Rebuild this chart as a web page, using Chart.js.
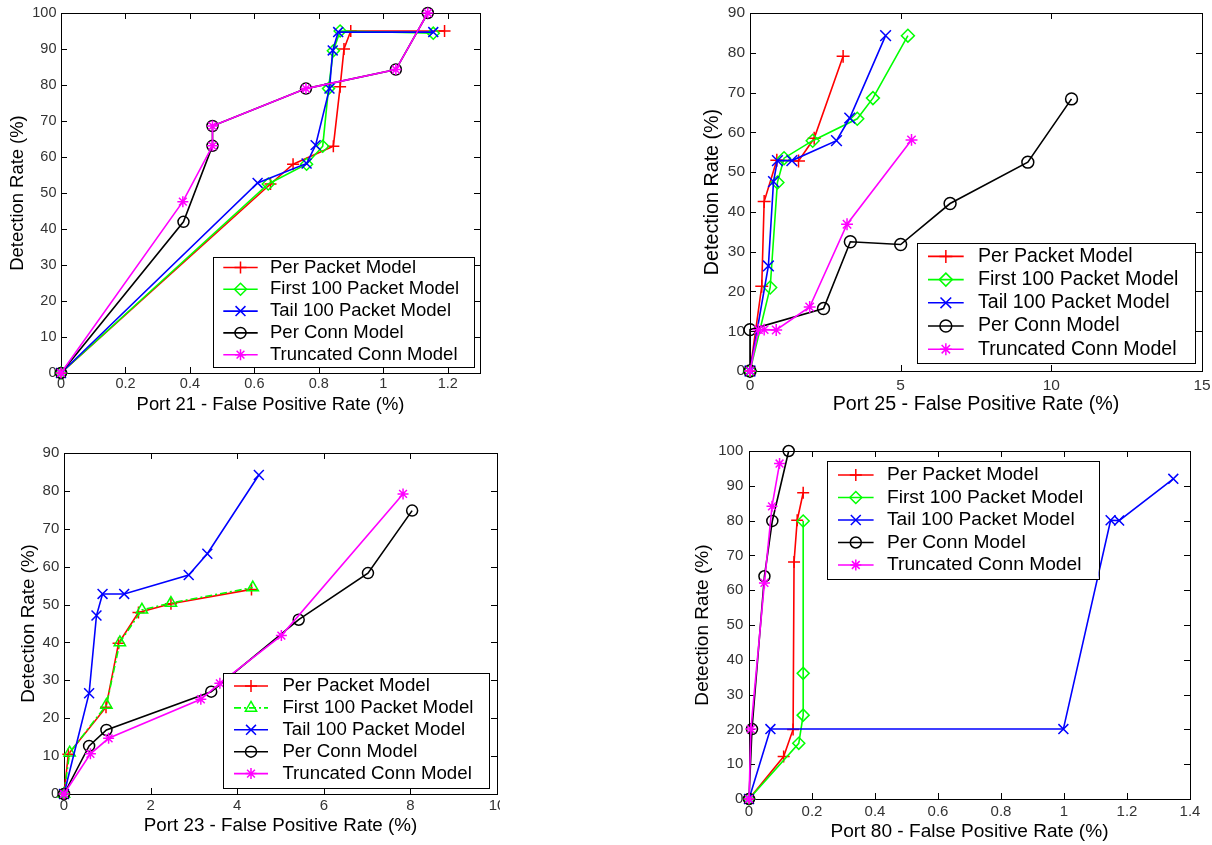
<!DOCTYPE html>
<html><head><meta charset="utf-8">
<script src="https://cdn.jsdelivr.net/npm/chart.js@4.4.0/dist/chart.umd.min.js"></script>
<style>
html,body{margin:0;padding:0;background:#fff;overflow:hidden;width:1212px;height:845px;}
.panel{position:absolute;overflow:hidden;}
.panel canvas{display:block;}
</style></head><body>
<div class="panel" style="left:0;top:0;width:490px;height:420px;"><canvas id="c21" width="490" height="420"></canvas></div>
<div class="panel" style="left:690px;top:0;width:522px;height:420px;"><canvas id="c25" width="522" height="420"></canvas></div>
<div class="panel" style="left:0;top:430px;width:500px;height:415px;"><canvas id="c23" width="520" height="415"></canvas></div>
<div class="panel" style="left:690px;top:430px;width:522px;height:415px;"><canvas id="c80" width="522" height="415"></canvas></div>
<script>
// ---------------- DATA ----------------
const seriesNames = ['Per Packet Model','First 100 Packet Model','Tail 100 Packet Model','Per Conn Model','Truncated Conn Model'];
const yTitle = 'Detection Rate (%)';

// Port 21
const p21PerPacket = [[0,0],[0.65,52.5],[0.72,58],[0.845,63],[0.866,79.5],[0.878,90],[0.899,95],[1.19,95]];
const p21First100  = [[0,0],[0.643,52.5],[0.762,58],[0.812,63],[0.83,79],[0.845,89.5],[0.866,95],[1.155,94.4]];
const p21Tail100   = [[0,0],[0.61,52.8],[0.762,58.2],[0.79,63.3],[0.833,79],[0.843,89.6],[0.86,94.7],[1.155,94.7]];
const p21PerConn   = [[0,0],[0.38,42],[0.47,63.1],[0.47,68.6],[0.76,79],[1.039,84.3],[1.138,100]];
const p21Truncated = [[0,0],[0.378,47.6],[0.47,63.1],[0.47,68.6],[0.76,79],[1.039,84.3],[1.138,100]];
const p21XTicks = [0,0.2,0.4,0.6,0.8,1,1.2];
const p21YTicks = [0,10,20,30,40,50,60,70,80,90,100];
const p21XTitle = 'Port 21 - False Positive Rate (%)';

// Port 25
const p25PerPacket = [[0,0],[0.39,21.3],[0.47,42.6],[0.89,53],[1.61,52.8],[2.13,58.5],[3.09,79.1]];
const p25First100  = [[0,0],[0.67,21],[0.91,47.4],[1.13,53.5],[2.08,57.9],[3.56,63.4],[4.08,68.6],[5.24,84.3]];
const p25Tail100   = [[0,0],[0.61,26.4],[0.78,47.6],[0.91,52.9],[1.39,52.9],[2.87,57.9],[3.31,63.6],[4.5,84.3]];
const p25PerConn   = [[0,0],[0,10.4],[2.44,15.7],[3.33,32.5],[5,31.8],[6.64,42.1],[9.22,52.5],[10.67,68.4]];
const p25Truncated = [[0,0],[0.28,10.4],[0.47,10.4],[0.87,10.3],[1.98,16.1],[3.22,36.9],[5.36,58.1]];
const p25XTicks = [0,5,10,15];
const p25YTicks = [0,10,20,30,40,50,60,70,80,90];
const p25XTitle = 'Port 25 - False Positive Rate (%)';

// Port 23
const p23PerPacket = [[0,0],[0.1,10.5],[0.97,22.9],[1.26,39.8],[1.72,47.9],[2.47,50.2],[4.33,54]];
const p23First100  = [[0,0],[0.13,10.9],[0.98,23.5],[1.29,40],[1.8,48.6],[2.47,50.4],[4.36,54.5]];
const p23Tail100   = [[0,0],[0.58,26.6],[0.75,47.1],[0.89,52.8],[1.39,52.8],[2.88,57.8],[3.31,63.4],[4.5,84.2]];
const p23PerConn   = [[0,0],[0.58,12.7],[0.98,16.9],[3.4,27],[5.42,46],[7.02,58.3],[8.04,74.8]];
const p23Truncated = [[0,0],[0.61,10.6],[1.03,14.7],[3.16,25],[3.6,29.2],[5.02,41.8],[7.83,79.2]];
const p23XTicks = [0,2,4,6,8,10];
const p23YTicks = [0,10,20,30,40,50,60,70,80,90];
const p23XTitle = 'Port 23 - False Positive Rate (%)';

// Port 80
const p80PerPacket = [[0,0],[0.11,12.2],[0.14,20],[0.143,68.1],[0.153,80.1],[0.172,88]];
const p80First100  = [[0,0],[0.158,16],[0.172,24.1],[0.172,36.1],[0.172,79.9]];
const p80Tail100   = [[0,0],[0.068,20.1],[0.998,20.1],[1.148,80.1],[1.175,80],[1.347,92]];
const p80PerConn   = [[0,0],[0.0095,20.1],[0.049,64],[0.074,79.9],[0.126,100]];
const p80Truncated = [[0,0],[0.006,20.1],[0.049,62.1],[0.073,84.1],[0.097,96.4]];
const p80XTicks = [0,0.2,0.4,0.6,0.8,1,1.2,1.4];
const p80YTicks = [0,10,20,30,40,50,60,70,80,90,100];
const p80XTitle = 'Port 80 - False Positive Rate (%)';

// ---------------- STYLE ----------------
const FONT = '"Liberation Sans", Arial, Helvetica, sans-serif';
const colors = ['#ff0000','#00ff00','#0000ff','#000000','#ff00ff'];
const marks  = ['cross','rectRot','crossRot','circle','star'];
const radii  = {cross:6, rectRot:6, crossRot:7, circle:5.5, star:5.5, triangle:6.5};

function drawMarker(ctx, style, x, y, r, lw, color){
  ctx.save();
  ctx.strokeStyle = color; ctx.lineWidth = lw; ctx.setLineDash([]);
  ctx.beginPath();
  const d = r*Math.SQRT1_2;
  switch(style){
    case 'cross': ctx.moveTo(x-r,y);ctx.lineTo(x+r,y);ctx.moveTo(x,y-r);ctx.lineTo(x,y+r);break;
    case 'crossRot': ctx.moveTo(x-d,y-d);ctx.lineTo(x+d,y+d);ctx.moveTo(x-d,y+d);ctx.lineTo(x+d,y-d);break;
    case 'star': ctx.moveTo(x-r,y);ctx.lineTo(x+r,y);ctx.moveTo(x,y-r);ctx.lineTo(x,y+r);
                 ctx.moveTo(x-d,y-d);ctx.lineTo(x+d,y+d);ctx.moveTo(x-d,y+d);ctx.lineTo(x+d,y-d);break;
    case 'rectRot': ctx.moveTo(x,y-r);ctx.lineTo(x+r,y);ctx.lineTo(x,y+r);ctx.lineTo(x-r,y);ctx.closePath();break;
    case 'circle': ctx.arc(x,y,r,0,Math.PI*2);break;
    case 'triangle': {
      const a = 2*Math.PI/3;
      ctx.moveTo(x, y-r);
      ctx.lineTo(x+Math.sin(a)*r, y-Math.cos(a)*r);
      ctx.lineTo(x+Math.sin(2*a)*r, y-Math.cos(2*a)*r);
      ctx.closePath(); break;
    }
  }
  ctx.stroke();
  ctx.restore();
}

const framePlugin = {
  id: 'frame',
  beforeDatasetsDraw(chart){
    const {ctx, chartArea:a, scales:{x, y}} = chart;
    const len = 6;
    ctx.save();
    ctx.strokeStyle = '#000'; ctx.lineWidth = 1;
    ctx.beginPath();
    x.ticks.forEach(t => {
      const px = Math.round(x.getPixelForValue(t.value)) + 0.5;
      ctx.moveTo(px, a.bottom); ctx.lineTo(px, a.bottom - len);
      ctx.moveTo(px, a.top); ctx.lineTo(px, a.top + len);
    });
    y.ticks.forEach(t => {
      const py = Math.round(y.getPixelForValue(t.value)) + 0.5;
      ctx.moveTo(a.left, py); ctx.lineTo(a.left + len, py);
      ctx.moveTo(a.right, py); ctx.lineTo(a.right - len, py);
    });
    ctx.stroke();
    ctx.strokeRect(Math.round(a.left)+0.5, Math.round(a.top)+0.5, Math.round(a.right-a.left), Math.round(a.bottom-a.top));
    ctx.restore();
  }
};

const legendPlugin = {
  id: 'boxLegend',
  afterDraw(chart, args, o){
    const {ctx, chartArea:a} = chart;
    const bx = Math.round(a.left + o.x), by = Math.round(a.top + o.y);
    ctx.save();
    ctx.fillStyle = '#fff';
    ctx.fillRect(bx, by, o.w, o.h);
    ctx.strokeStyle = '#000'; ctx.lineWidth = 1;
    ctx.strokeRect(bx+0.5, by+0.5, Math.round(o.w), Math.round(o.h));
    chart.data.datasets.forEach((ds, i) => {
      const cy = by + o.first + i*o.step;
      ctx.strokeStyle = ds.borderColor; ctx.lineWidth = ds.borderWidth;
      ctx.setLineDash(ds.borderDash || []);
      ctx.beginPath(); ctx.moveTo(bx+o.l0, cy); ctx.lineTo(bx+o.l1, cy); ctx.stroke();
      ctx.setLineDash([]);
      drawMarker(ctx, ds.pointStyle, bx+(o.l0+o.l1)/2, cy, ds.pointRadius, ds.pointBorderWidth, ds.borderColor);
      ctx.fillStyle = '#000';
      ctx.font = o.fontSize + 'px ' + FONT;
      ctx.textBaseline = 'middle'; ctx.textAlign = 'left';
      ctx.fillText(ds.label, bx+o.tx, cy);
    });
    ctx.restore();
  }
};

function makeChart(id, c){
  const datasets = c.series.map((pts, i) => {
    const style = (c.styles && c.styles[i]) || marks[i];
    return {
      label: seriesNames[i],
      data: pts.map(p => ({x:p[0], y:p[1]})),
      showLine: true,
      borderColor: colors[i],
      backgroundColor: 'rgba(0,0,0,0)',
      borderWidth: 1.6,
      borderDash: (c.dashes && c.dashes[i]) || [],
      pointStyle: style,
      pointRadius: radii[style] * (c.mScale||1),
      pointBorderWidth: 1.5,
      pointBorderColor: colors[i],
      pointBackgroundColor: 'rgba(0,0,0,0)',
      pointHoverRadius: radii[style],
      clip: false,
      order: 5 - i,
      tension: 0
    };
  });
  const tickFont = {family: FONT, size: c.tickSize};
  const titleFont = {family: FONT, size: c.titleSize};
  new Chart(document.getElementById(id), {
    type: 'scatter',
    data: {datasets},
    plugins: [framePlugin, legendPlugin],
    options: {
      responsive: false,
      animation: false,
      events: [],
      layout: {padding: c.pad},
      plugins: {
        legend: {display:false},
        tooltip: {enabled:false},
        boxLegend: c.legend
      },
      scales: {
        x: {
          type: 'linear', min: 0, max: c.xmax,
          afterBuildTicks: s => { s.ticks = c.xTicks.map(v => ({value:v})); },
          afterFit: s => { s.height = c.hX; s.paddingLeft = 0; s.paddingRight = 0; },
          ticks: {callback: v => String(v), font: tickFont, color: '#333', padding: c.xPad, maxRotation: 0, autoSkip: false},
          grid: {display: false, drawTicks: false},
          border: {display: false},
          title: {display: true, text: c.xTitle, font: titleFont, color: '#000', padding: 0}
        },
        y: {
          type: 'linear', min: 0, max: c.ymax,
          afterBuildTicks: s => { s.ticks = c.yTicks.map(v => ({value:v})); },
          afterFit: s => { s.width = c.wY; s.paddingTop = 0; s.paddingBottom = 0; },
          ticks: {callback: v => String(v), font: tickFont, color: '#333', padding: c.yPad, autoSkip: false},
          grid: {display: false, drawTicks: false},
          border: {display: false},
          title: {display: true, text: yTitle, font: titleFont, color: '#000', padding: 0}
        }
      }
    }
  });
}

makeChart('c21', {
  series: [p21PerPacket, p21First100, p21Tail100, p21PerConn, p21Truncated],
  xTicks: p21XTicks, yTicks: p21YTicks, xmax: 1.3, ymax: 100, xTitle: p21XTitle,
  pad: {left:6.5, top:13, right:10, bottom:4.4}, wY: 54.5, hX: 42.6,
  tickSize: 14.5, titleSize: 18.4, xPad: 2, yPad: 4.5,
  legend: {x:152, y:243.7, w:261, h:110, first:10.5, step:21.8, l0:10.3, l1:44.7, tx:57, fontSize:18.5}
});

makeChart('c25', {
  series: [p25PerPacket, p25First100, p25Tail100, p25PerConn, p25Truncated],
  xTicks: p25XTicks, yTicks: p25YTicks, xmax: 15, ymax: 90, xTitle: p25XTitle,
  pad: {left:11.2, top:13, right:10, bottom:3.4}, wY: 48.8, hX: 45.6,
  tickSize: 15.5, titleSize: 19.7, xPad: 5, yPad: 5, mScale: 1.08,
  legend: {x:167.3, y:230.3, w:278, h:120, first:13.4, step:23.2, l0:11, l1:46.7, tx:61, fontSize:19.6}
});

makeChart('c23', {
  series: [p23PerPacket, p23First100, p23Tail100, p23PerConn, p23Truncated],
  styles: [null, 'triangle', null, null, null],
  dashes: [null, [7,3,2,3], null, null, null],
  xTicks: p23XTicks, yTicks: p23YTicks, xmax: 10, ymax: 90, xTitle: p23XTitle,
  pad: {left:17.4, top:23, right:23, bottom:7.6}, wY: 46.6, hX: 43.4,
  tickSize: 15, titleSize: 18.8, xPad: 2.4, yPad: 4.7,
  legend: {x:159.3, y:219.7, w:266, h:114.6, first:13, step:21.9, l0:11, l1:45, tx:59.4, fontSize:18.7}
});

makeChart('c80', {
  series: [p80PerPacket, p80First100, p80Tail100, p80PerConn, p80Truncated],
  xTicks: p80XTicks, yTicks: p80YTicks, xmax: 1.4, ymax: 100, xTitle: p80XTitle,
  pad: {left:1.5, top:21, right:22, bottom:1.9}, wY: 57.5, hX: 44.1,
  tickSize: 15, titleSize: 19.1, xPad: 4, yPad: 5.7,
  legend: {x:77.7, y:10, w:271.6, h:118.3, first:14, step:22.5, l0:11, l1:46.6, tx:60, fontSize:19.2}
});
</script>
</body></html>
